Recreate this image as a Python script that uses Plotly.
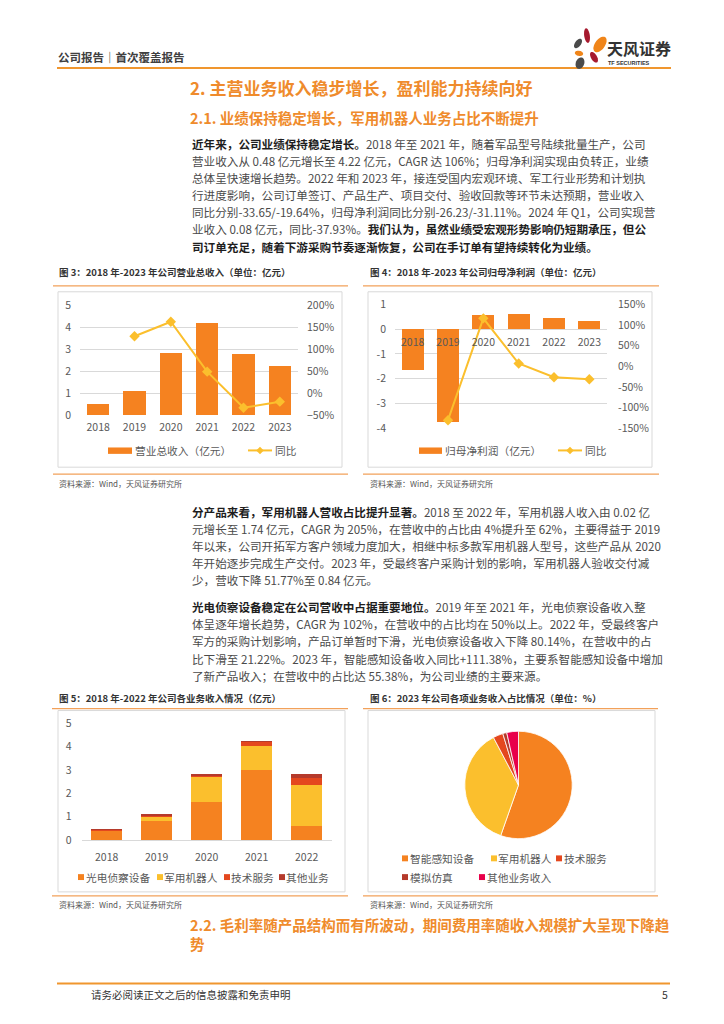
import numpy as np
import plotly.graph_objects as go

W, H = 724, 1024
def X(px): return px / W
def Y(py): return 1 - py / H

FONT = "Noto Sans CJK SC"
C_OR = "#F58220"
C_YE = "#FBBF2D"
C_RED = "#E4471E"
C_DRED = "#B53A2B"
C_PINK = "#E8004A"
C_TITLE = "#EF8B2C"
C_SEP = "#F2A15A"
C_BOX = "#D9D9D9"
C_TICK = "#595959"

# ---------------- data ----------------
years_rev = ["2018", "2019", "2020", "2021", "2022", "2023"]
revenue = [0.48, 1.10, 2.83, 4.22, 2.80, 2.25]           # 亿元
revenue_yoy = [None, 130, 163, 49, -33.65, -19.64]       # %
rev_left_ticks = [0, 1, 2, 3, 4, 5]
rev_right_ticks = [-50, 0, 50, 100, 150, 200]
rev_right_text = ["\u221250%", "0%", "50%", "100%", "150%", "200%"]

profit = [-1.63, -3.74, 0.58, 0.62, 0.45, 0.31]          # 亿元
profit_yoy = [None, -130, 116, 6.9, -26.23, -31.11]      # %
prof_left_ticks = [-4, -3, -2, -1, 0, 1]
prof_left_text = ["-4", "-3", "-2", "-1", "0", "1"]
prof_right_ticks = [-150, -100, -50, 0, 50, 100, 150]
prof_right_text = ["-150%", "-100%", "-50%", "0%", "50%", "100%", "150%"]

years_seg = ["2018", "2019", "2020", "2021", "2022"]
seg_names = ["光电侦察设备", "军用机器人", "技术服务", "其他业务"]
seg_optic = [0.38, 0.81, 1.62, 2.98, 0.59]
seg_robot = [0.02, 0.17, 1.06, 1.05, 1.74]
seg_tech = [0.01, 0.03, 0.06, 0.17, 0.31]
seg_other = [0.07, 0.09, 0.09, 0.02, 0.16]
seg_ticks = [0, 1, 2, 3, 4, 5]

pie_labels = ["智能感知设备", "军用机器人", "技术服务", "模拟仿真", "其他业务收入"]
pie_values = [55.38, 36.90, 3.00, 1.20, 3.52]

# ---------------- figure ----------------
fig = go.Figure()

# Chart 3
fig.add_bar(x=years_rev, y=revenue, marker=dict(color=C_OR, line=dict(width=0)),
            width=0.62, xaxis="x", yaxis="y", showlegend=False, hoverinfo="skip")
fig.add_scatter(x=years_rev, y=revenue_yoy, mode="lines+markers",
                line=dict(color=C_YE, width=2),
                marker=dict(symbol="diamond", size=8, color=C_YE),
                xaxis="x", yaxis="y2", showlegend=False, hoverinfo="skip")

# Chart 4
fig.add_bar(x=years_rev, y=profit, marker=dict(color=C_OR, line=dict(width=0)),
            width=0.62, xaxis="x2", yaxis="y3", showlegend=False, hoverinfo="skip")
fig.add_scatter(x=years_rev, y=profit_yoy, mode="lines+markers",
                line=dict(color=C_YE, width=2),
                marker=dict(symbol="diamond", size=8, color=C_YE),
                xaxis="x2", yaxis="y4", showlegend=False, hoverinfo="skip")

# Chart 5
for vals, col in zip([seg_optic, seg_robot, seg_tech, seg_other], [C_OR, C_YE, C_RED, C_DRED]):
    fig.add_bar(x=years_seg, y=vals, marker=dict(color=col, line=dict(width=0)), width=0.63,
                xaxis="x3", yaxis="y5", showlegend=False, hoverinfo="skip")

# Chart 6
fig.add_pie(labels=pie_labels, values=pie_values, sort=False, direction="clockwise",
            rotation=0, textinfo="none", hoverinfo="skip", showlegend=False,
            marker=dict(colors=[C_OR, C_YE, C_RED, C_DRED, C_PINK],
                        line=dict(color="white", width=0.8)),
            domain=dict(x=[X(464), X(573)], y=[Y(843), Y(734)]))

tickfont = dict(family=FONT, size=10.5, color=C_TICK)

# zero position for chart 4 x axis
p_dom = [Y(426.7), Y(300.7)]
p_rng = [-4, 1]
zero_pos = p_dom[0] + (0 - p_rng[0]) / (p_rng[1] - p_rng[0]) * (p_dom[1] - p_dom[0])

fig.update_layout(
    width=W, height=H, margin=dict(l=0, r=0, t=0, b=0),
    paper_bgcolor="white", plot_bgcolor="rgba(0,0,0,0)",
    barmode="stack", bargap=0.37,
    showlegend=False,
    xaxis=dict(domain=[X(80), X(298)], anchor="y", type="category", showgrid=False,
               showline=False, zeroline=False, ticks="", tickfont=tickfont,
               ticklabelstandoff=5, fixedrange=True),
    yaxis=dict(domain=[Y(413), Y(302)], anchor="x", range=[0, 5], tickvals=rev_left_ticks,
               showgrid=True, gridcolor=C_BOX, gridwidth=1, zeroline=False, ticks="",
               tickfont=tickfont, ticklabelstandoff=8, fixedrange=True),
    yaxis2=dict(overlaying="y", anchor="x", side="right", range=[-50, 200],
                tickvals=rev_right_ticks, ticktext=rev_right_text, showgrid=False,
                zeroline=False, ticks="", tickfont=tickfont, ticklabelstandoff=8,
                fixedrange=True),
    xaxis2=dict(domain=[X(395), X(607)], anchor="free", position=zero_pos, type="category",
                showgrid=False, showline=False, zeroline=False, ticks="", tickfont=tickfont,
                ticklabelstandoff=5, fixedrange=True),
    yaxis3=dict(domain=p_dom, anchor="x2", range=p_rng, tickvals=prof_left_ticks,
                ticktext=prof_left_text, showgrid=True, gridcolor=C_BOX, gridwidth=1,
                zeroline=False, ticks="", tickfont=tickfont, ticklabelstandoff=8,
                fixedrange=True),
    yaxis4=dict(overlaying="y3", anchor="x2", side="right", range=[-150, 150],
                tickvals=prof_right_ticks, ticktext=prof_right_text, showgrid=False,
                zeroline=False, ticks="", tickfont=tickfont, ticklabelstandoff=10,
                fixedrange=True),
    xaxis3=dict(domain=[X(81.7), X(331.7)], anchor="y5", type="category", showgrid=False,
                showline=True, linecolor=C_BOX, linewidth=1, zeroline=False, ticks="",
                tickfont=tickfont, ticklabelstandoff=7, fixedrange=True),
    yaxis5=dict(domain=[Y(844.3), Y(725.7)], anchor="x3", range=[0, 5], tickvals=seg_ticks,
                showgrid=False, zeroline=False, showline=False, ticks="", tickfont=tickfont,
                ticklabelstandoff=9, fixedrange=True),
)

shapes = []
annots = []

def hline(x0, x1, y, color, w=1):
    shapes.append(dict(type="line", xref="paper", yref="paper", x0=X(x0), x1=X(x1),
                       y0=Y(y), y1=Y(y), line=dict(color=color, width=w)))

def box(x0, y0, x1, y1, color=C_BOX):
    shapes.append(dict(type="rect", xref="paper", yref="paper", x0=X(x0), x1=X(x1),
                       y0=Y(y1), y1=Y(y0), line=dict(color=color, width=1),
                       fillcolor="rgba(0,0,0,0)", layer="below"))

def fillrect(x0, y0, x1, y1, color):
    shapes.append(dict(type="rect", xref="paper", yref="paper", x0=X(x0), x1=X(x1),
                       y0=Y(y1), y1=Y(y0), line=dict(width=0), fillcolor=color))

def diamond(cx, cy, r, color):
    path = (f"M{X(cx - r)},{Y(cy)} L{X(cx)},{Y(cy - r)} L{X(cx + r)},{Y(cy)} "
            f"L{X(cx)},{Y(cy + r)} Z")
    shapes.append(dict(type="path", xref="paper", yref="paper", path=path,
                       fillcolor=color, line=dict(width=0)))

def ellipse(cx, cy, rx, ry, ang, color):
    t = np.linspace(0, 2 * np.pi, 40)
    a = np.deg2rad(ang)
    xs = cx + rx * np.cos(t) * np.cos(a) - ry * np.sin(t) * np.sin(a)
    ys = cy + rx * np.cos(t) * np.sin(a) + ry * np.sin(t) * np.cos(a)
    path = "M" + " L".join(f"{X(x):.5f},{Y(y):.5f}" for x, y in zip(xs, ys)) + " Z"
    shapes.append(dict(type="path", xref="paper", yref="paper", path=path,
                       fillcolor=color, line=dict(width=0)))

def text(x, y, s, size, color="#333333", anchor="left", family=FONT):
    annots.append(dict(x=X(x), y=Y(y), xref="paper", yref="paper", text=s,
                       showarrow=False, xanchor=anchor, yanchor="middle",
                       borderpad=0, font=dict(family=family, size=size, color=color)))

def B(s):
    return f'<span style="color:#1e1e1e"><b>{s}</b></span>'

# ---------------- header ----------------
text(57, 50, "<b>公司报告｜首次覆盖报告</b>", 11.5, "#404040")
hline(57, 671, 61, "#F0962E", 2)
# logo
ellipse(587, 28, 2.8, 7.5, -8, "#A6192E")
ellipse(578, 36, 3.0, 5.5, 35, "#4A4A4A")
ellipse(600, 37, 5.0, 9.0, 35, "#F08519")
ellipse(579, 46, 4.2, 2.6, 10, "#F08519")
ellipse(594, 50, 3.0, 6.0, -30, "#A6192E")
ellipse(580, 56, 4.2, 6.0, 20, "#4A4A4A")
text(606, 41, "<b>天风证券</b>", 16, "#333333")
text(607, 56, "<b>TF SECURITIES</b>", 5.5, "#333333", family="Liberation Sans")

# ---------------- titles ----------------
text(189, 81, "<b>2. 主营业务收入稳步增长，盈利能力持续向好</b>", 17, C_TITLE)
text(189, 111, "<b>2.1. 业绩保持稳定增长，军用机器人业务占比不断提升</b>", 14.5, C_TITLE)

BODY = 11.6
BODY_C = "#4a4a4a"
para1 = [
    B("近年来，公司业绩保持稳定增长。") + "2018 年至 2021 年，随着军品型号陆续批量生产，公司",
    "营业收入从 0.48 亿元增长至 4.22 亿元，CAGR 达 106%；归母净利润实现由负转正，业绩",
    "总体呈快速增长趋势。2022 年和 2023 年，接连受国内宏观环境、军工行业形势和计划执",
    "行进度影响，公司订单签订、产品生产、项目交付、验收回款等环节未达预期，营业收入",
    "同比分别-33.65/-19.64%，归母净利润同比分别-26.23/-31.11%。2024 年 Q1，公司实现营",
    "业收入 0.08 亿元，同比-37.93%。" + B("我们认为，虽然业绩受宏观形势影响仍短期承压，但公"),
    B("司订单充足，随着下游采购节奏逐渐恢复，公司在手订单有望持续转化为业绩。"),
]
for i, ln in enumerate(para1):
    text(191, 138 + 17.35 * i, ln, BODY, BODY_C)

para2 = [
    B("分产品来看，军用机器人营收占比提升显著。") + "2018 至 2022 年，军用机器人收入由 0.02 亿",
    "元增长至 1.74 亿元，CAGR 为 205%，在营收中的占比由 4%提升至 62%，主要得益于 2019",
    "年以来，公司开拓军方客户领域力度加大，相继中标多款军用机器人型号，这些产品从 2020",
    "年开始逐步完成生产交付。2023 年，受最终客户采购计划的影响，军用机器人验收交付减",
    "少，营收下降 51.77%至 0.84 亿元。",
]
for i, ln in enumerate(para2):
    text(191, 511 + 17.4 * i, ln, BODY, BODY_C)

para3 = [
    B("光电侦察设备稳定在公司营收中占据重要地位。") + "2019 年至 2021 年，光电侦察设备收入整",
    "体呈逐年增长趋势，CAGR 为 102%，在营收中的占比均在 50%以上。2022 年，受最终客户",
    "军方的采购计划影响，产品订单暂时下滑，光电侦察设备收入下降 80.14%，在营收中的占",
    "比下滑至 21.22%。2023 年，智能感知设备收入同比+111.38%，主要系智能感知设备中增加",
    "了新产品收入；在营收中的占比达 55.38%，为公司业绩的主要来源。",
]
for i, ln in enumerate(para3):
    text(191, 608 + 17.4 * i, ln, BODY, BODY_C)

# ---------------- chart frames ----------------
CT = 9.5
text(58, 268, "<b>图 3：2018 年-2023 年公司营业总收入（单位：亿元）</b>", CT, "#333333")
text(369, 268, "<b>图 4：2018 年-2023 年公司归母净利润（单位：亿元）</b>", CT, "#333333")
hline(53, 348, 282, C_SEP, 1.2)
hline(363, 659, 282, C_SEP, 1.2)
box(58, 288, 342, 466)
box(368, 288, 652, 466)
hline(53, 348, 473, C_SEP, 1.2)
hline(363, 659, 473, C_SEP, 1.2)
text(58, 483, "资料来源：Wind，天风证券研究所", 8, "#555555")
text(369, 483, "资料来源：Wind，天风证券研究所", 8, "#555555")

text(58, 700, "<b>图 5：2018 年-2022 年公司各业务收入情况（亿元）</b>", CT, "#333333")
text(369, 700, "<b>图 6：2023 年公司各项业务收入占比情况（单位：%）</b>", CT, "#333333")
hline(52, 348, 711, C_SEP, 1.2)
hline(363, 658, 711, C_SEP, 1.2)
box(58, 713, 345, 897)
box(368, 713, 655, 897)
hline(52, 348, 901, C_SEP, 1.2)
hline(363, 658, 901, C_SEP, 1.2)
text(58, 910, "资料来源：Wind，天风证券研究所", 8, "#555555")
text(369, 910, "资料来源：Wind，天风证券研究所", 8, "#555555")

# ---------------- legends ----------------
LG = 10.7
LGC = "#595959"
# chart 3
fillrect(108, 446, 132, 452.5, C_OR)
text(134, 449, "营业总收入（亿元）", LG, LGC)
hline(248, 272, 449, C_YE, 2)
diamond(260, 449, 3.8, C_YE)
text(274, 449, "同比", LG, LGC)
# chart 4
fillrect(419, 446, 442, 452.5, C_OR)
text(444, 449, "归母净利润（亿元）", LG, LGC)
hline(558, 582, 449, C_YE, 2)
diamond(570, 449, 3.8, C_YE)
text(584, 449, "同比", LG, LGC)
# chart 5
for sx, tx, col, name in zip([78, 157, 224, 279], [84.5, 163, 230, 285],
                             [C_OR, C_YE, C_RED, C_DRED], seg_names):
    fillrect(sx, 879, sx + 6, 885, col)
    text(tx, 882, name, LG, LGC)
# chart 6
pie_cols = [C_OR, C_YE, C_RED, C_DRED, C_PINK]
pie_leg = [(402, 409, 863), (491, 497, 863), (556, 563, 863), (402, 409, 882), (479, 486, 882)]
for (sx, tx, yy), col, name in zip(pie_leg, pie_cols, pie_labels):
    fillrect(sx, yy - 3, sx + 6, yy + 3, col)
    text(tx, yy, name, LG, LGC)

# ---------------- section 2.2 & footer ----------------
text(189, 930, "<b>2.2. 毛利率随产品结构而有所波动，期间费用率随收入规模扩大呈现下降趋</b>", 14.5, C_TITLE)
text(189, 949, "<b>势</b>", 14.5, C_TITLE)
hline(57, 670, 990, "#F0962E", 2)
text(90, 1001, "请务必阅读正文之后的信息披露和免责申明", 10.5, "#333333")
text(665, 1001, "5", 10.5, "#333333", anchor="center")

fig.update_layout(shapes=shapes, annotations=annots)
fig.write_html("out.html", config={"displayModeBar": False, "staticPlot": True},
               post_script="document.body.style.margin='0';document.body.style.overflow='hidden';")
